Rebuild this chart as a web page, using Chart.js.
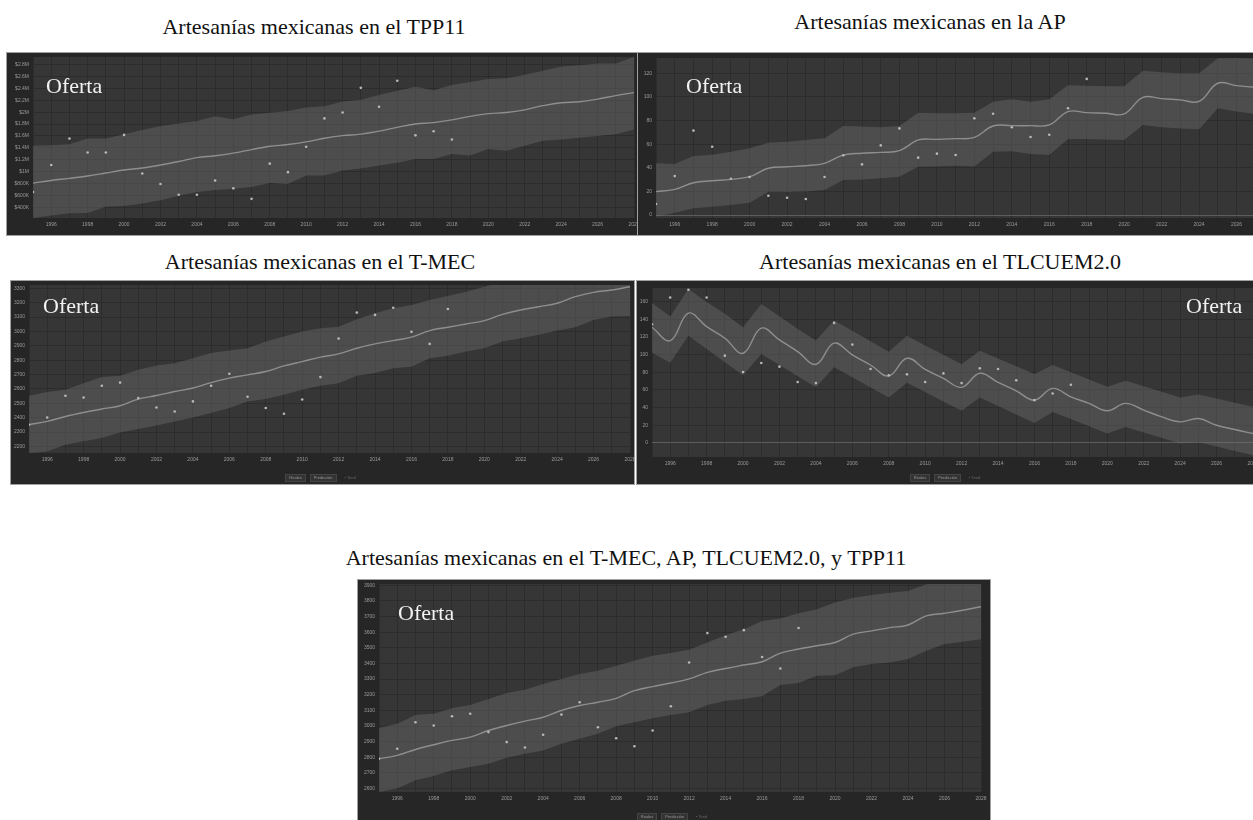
<!DOCTYPE html>
<html lang="es">
<head>
<meta charset="utf-8">
<title>Artesanías mexicanas - Oferta</title>
<script src="https://cdn.jsdelivr.net/npm/chart.js@4.4.1/dist/chart.umd.min.js"></script>
<style>
  body { margin: 0; width: 1253px; height: 820px; overflow: hidden; background: #fff; position: relative;
         font-family: "Liberation Serif", "Times New Roman", serif; }
  .titulo { position: absolute; font-size: 22px; line-height: 25px; color: #111; white-space: nowrap; transform: translateX(-50%); }
  .panel { position: absolute; background: #262626; box-shadow: 0 0 0 1px #a0a0a0; }
  .panel canvas { display: block; }
  .oferta { position: absolute; font-size: 22px; line-height: 25px; color: #f2f2f2; white-space: nowrap; }
  .leyenda { position: absolute; display: flex; justify-content: center; gap: 4px;
             font-family: "Liberation Sans", sans-serif; font-size: 4px; line-height: 6px; color: #9a9a9a; }
  .leyenda span { padding: 0 3px; background: #333; border: 1px solid #444; }
  .leyenda span.tenue { background: none; border-color: transparent; color: #666; }
</style>
</head>
<body>

<div class="titulo" style="left:314px; top:14px">Artesanías mexicanas en el TPP11</div>
<div class="titulo" style="left:930px; top:9px">Artesanías mexicanas en la AP</div>
<div class="titulo" style="left:320px; top:249px">Artesanías mexicanas en el T-MEC</div>
<div class="titulo" style="left:940px; top:249px">Artesanías mexicanas en el TLCUEM2.0</div>
<div class="titulo" style="left:626px; top:545px">Artesanías mexicanas en el T-MEC, AP, TLCUEM2.0, y TPP11</div>

<div class="panel" style="left:7px; top:53px; width:631px; height:182px"><canvas id="tpp" width="631" height="182"></canvas></div>
<div class="panel" style="left:638px; top:53px; width:640px; height:182px"><canvas id="ap" width="640" height="182"></canvas></div>
<div class="panel" style="left:11px; top:281px; width:623px; height:203px"><canvas id="tmec" width="623" height="203"></canvas></div>
<div class="panel" style="left:637px; top:281px; width:620px; height:203px"><canvas id="tlcuem" width="620" height="203"></canvas></div>
<div class="panel" style="left:358px; top:580px; width:632px; height:240px"><canvas id="todos" width="632" height="240"></canvas></div>

<div class="oferta" style="left:46px; top:73px">Oferta</div>
<div class="oferta" style="left:686px; top:73px">Oferta</div>
<div class="oferta" style="left:43px; top:293px">Oferta</div>
<div class="oferta" style="left:1186px; top:293px">Oferta</div>
<div class="oferta" style="left:398px; top:600px">Oferta</div>

<div class="leyenda" style="left:11px; width:623px; top:474px"><span>Reales</span><span>Predicción</span><span class="tenue">▪ Tend</span></div>
<div class="leyenda" style="left:637px; width:620px; top:474px"><span>Reales</span><span>Predicción</span><span class="tenue">▪ Tend</span></div>
<div class="leyenda" style="left:358px; width:632px; top:813px"><span>Reales</span><span>Predicción</span><span class="tenue">▪ Tend</span></div>

<script>
// Años de los datos observados y del pronóstico
const anosReales = [1995, 1996, 1997, 1998, 1999, 2000, 2001, 2002, 2003, 2004, 2005, 2006,
                    2007, 2008, 2009, 2010, 2011, 2012, 2013, 2014, 2015, 2016, 2017, 2018];
const anosPronostico = [1995, 1996, 1997, 1998, 1999, 2000, 2001, 2002, 2003, 2004, 2005, 2006,
                        2007, 2008, 2009, 2010, 2011, 2012, 2013, 2014, 2015, 2016, 2017, 2018,
                        2019, 2020, 2021, 2022, 2023, 2024, 2025, 2026, 2027, 2028];
const anosEtiqueta = [1996, 1998, 2000, 2002, 2004, 2006, 2008, 2010, 2012, 2014, 2016, 2018,
                      2020, 2022, 2024, 2026, 2028];

// TPP11 (miles de dólares)
const tppReal = [655, 1110, 1555, 1320, 1320, 1617, 967, 790, 610, 610, 850, 717,
                 540, 1133, 990, 1417, 1895, 1995, 2410, 2090, 2530, 1610, 1680, 1540];
const tppTendencia = [805, 850, 885, 925, 975, 1025, 1060, 1110, 1170, 1235, 1265, 1310,
                      1370, 1425, 1455, 1500, 1560, 1605, 1630, 1680, 1745, 1800, 1825, 1870,
                      1930, 1975, 1995, 2040, 2110, 2160, 2175, 2220, 2280, 2330];
const tppSuperior = [1433, 1445, 1460, 1555, 1555, 1630, 1700, 1767, 1810, 1850, 1930, 1880,
                     1960, 1990, 2020, 2080, 2100, 2180, 2210, 2290, 2360, 2430, 2370, 2460,
                     2510, 2560, 2570, 2630, 2700, 2770, 2790, 2820, 2820, 2930];
const tppInferior = [217, 260, 295, 300, 405, 420, 460, 517, 590, 655, 690, 710,
                     740, 805, 790, 933, 933, 1017, 1050, 1100, 1150, 1210, 1210, 1295,
                     1270, 1380, 1350, 1433, 1517, 1540, 1570, 1600, 1630, 1710];
const tppTicks = [400, 600, 800, 1000, 1200, 1400, 1600, 1800, 2000, 2200, 2400, 2600, 2800];
const tppEtiquetas = ['$400K', '$600K', '$800K', '$1M', '$1.2M', '$1.4M', '$1.6M', '$1.8M',
                      '$2M', '$2.2M', '$2.4M', '$2.6M', '$2.8M'];

// AP
const apReal = [9.3, 33, 71.5, 57.9, 30.8, 32.2, 16.4, 14.7, 13.6, 32.2, 50.6, 42.9,
                59, 73.4, 48.6, 52, 50.8, 81.9, 85.8, 74.3, 66.1, 68, 90.4, 115.3];
const apTendencia = [19.8, 21.8, 27.4, 29, 30.2, 32.5, 39.6, 40.9, 41.8, 43.8, 50.8, 52.3,
                     53.1, 54.5, 63.6, 64.1, 64.7, 65.8, 75.4, 75.7, 75.7, 76.3, 87.6, 86.7,
                     86.2, 85.6, 99.7, 98.6, 97.5, 96.3, 111.6, 109.6, 108.2, 107.6];
const apSuperior = [43.8, 43.2, 50, 51, 53.6, 56.5, 61.3, 62, 63.6, 65, 75.4, 75,
                    74.3, 75.4, 86.7, 86.2, 86.2, 86.7, 96, 98, 96, 98, 110, 109.5,
                    109, 109, 122.3, 121, 120, 120, 132.8, 133, 132.5, 132];
const apInferior = [-1.4, 2, 5.7, 7, 8.5, 10.4, 19.8, 19.6, 19.9, 21.2, 29.7, 30,
                    31.1, 32.5, 41, 41.2, 41.8, 41.2, 53.6, 54, 51.7, 50.8, 64.4, 64.3,
                    64, 63.6, 76.3, 74.3, 73.4, 72.6, 90.4, 87.6, 85.6, 85];
const apTicks = [0, 20, 40, 60, 80, 100, 120];
const apEtiquetas = ['0', '20', '40', '60', '80', '100', '120'];

// T-MEC
const tmecReal = [2351, 2401, 2552, 2540, 2622, 2644, 2536, 2471, 2443, 2513, 2622, 2705,
                  2545, 2467, 2427, 2526, 2682, 2950, 3131, 3115, 3165, 2997, 2913, 3156];
const tmecTendencia = [2351, 2374, 2408, 2436, 2460, 2483, 2529, 2554, 2582, 2606, 2644, 2675,
                       2698, 2721, 2760, 2790, 2821, 2844, 2883, 2913, 2936, 2960, 3006, 3029,
                       3052, 3075, 3119, 3149, 3172, 3196, 3242, 3272, 3288, 3311];
const tmecSuperior = [2552, 2578, 2594, 2640, 2682, 2691, 2733, 2763, 2779, 2814, 2849, 2867,
                      2883, 2929, 2964, 2999, 3022, 3033, 3085, 3126, 3161, 3184, 3219, 3247,
                      3276, 3311, 3345, 3370, 3395, 3420, 3460, 3490, 3510, 3535];
const tmecInferior = [2154, 2165, 2212, 2235, 2258, 2297, 2321, 2346, 2374, 2401, 2432, 2467,
                      2513, 2529, 2559, 2594, 2622, 2640, 2691, 2710, 2744, 2755, 2814, 2830,
                      2860, 2883, 2929, 2953, 2976, 3006, 3029, 3080, 3103, 3108];
const tmecTicks = [2200, 2300, 2400, 2500, 2600, 2700, 2800, 2900, 3000, 3100, 3200, 3300];
const tmecEtiquetas = ['2200', '2300', '2400', '2500', '2600', '2700', '2800', '2900', '3000', '3100', '3200', '3300'];

// TLCUEM2.0
const tlcuemReal = [134.5, 164.8, 173.5, 164.8, 98.9, 80.3, 90.6, 86.4, 69, 67.8, 136, 111.4,
                    83.8, 76.6, 77.7, 69, 78.8, 67.8, 84.5, 83.8, 70.9, 48.5, 56.1, 65.9];
const tlcuemTendencia = [131.1, 115.9, 147, 131.8, 118.6, 101.6, 130, 116.7, 103.4, 89.1, 113, 99.7,
                         88.3, 75.8, 95.9, 83.4, 73.2, 63, 78.9, 68.6, 59.1, 48.5, 61.8, 52.3,
                         44.8, 36.4, 44.8, 37.2, 29.5, 23.9, 27.7, 20.1, 15.2, 10.7];
const tlcuemSuperior = [158.4, 143.2, 174.3, 159.6, 146.2, 131.1, 157.3, 143.5, 129.2, 115.9, 138.6, 127,
                        115.2, 103.4, 121.3, 110.5, 99.8, 89.1, 104.5, 95.7, 86.8, 78, 88.3, 80.1,
                        71.8, 63.6, 70.5, 64.2, 57.9, 51.6, 55, 50.3, 45.6, 40.9];
const tlcuemInferior = [102.3, 90.9, 121.3, 106.4, 91.5, 76.6, 100.8, 88.2, 75.6, 63, 85.7, 74.3,
                        62.9, 51.6, 68.2, 57.6, 47, 36.4, 51.6, 42, 32.3, 22.7, 35.2, 27,
                        18.9, 10.7, 18.2, 11.9, 5.6, -0.7, 1.1, -4, -9, -14];
const tlcuemTicks = [0, 20, 40, 60, 80, 100, 120, 140, 160];
const tlcuemEtiquetas = ['0', '20', '40', '60', '80', '100', '120', '140', '160'];

// T-MEC, AP, TLCUEM2.0 y TPP11
const todosReal = [2791, 2855, 3024, 3003, 3062, 3078, 2961, 2897, 2863, 2944, 3073, 3152,
                   2992, 2922, 2871, 2971, 3126, 3406, 3594, 3570, 3613, 3441, 3368, 3627];
const todosTendencia = [2791, 2812, 2850, 2880, 2908, 2929, 2971, 3003, 3031, 3056, 3099, 3131,
                        3152, 3177, 3226, 3252, 3275, 3301, 3343, 3368, 3390, 3411, 3466, 3492,
                        3513, 3534, 3587, 3608, 3629, 3646, 3704, 3721, 3740, 3763];
const todosSuperior = [2988, 3014, 3071, 3078, 3113, 3135, 3173, 3211, 3232, 3269, 3301, 3333,
                       3354, 3385, 3417, 3449, 3466, 3487, 3534, 3581, 3619, 3672, 3687, 3721,
                       3747, 3789, 3820, 3838, 3852, 3863, 3906, 3930, 3950, 3980];
const todosInferior = [2578, 2600, 2653, 2680, 2717, 2738, 2759, 2797, 2823, 2844, 2887, 2918,
                       2950, 2999, 3024, 3050, 3071, 3088, 3135, 3162, 3173, 3190, 3262, 3275,
                       3322, 3324, 3375, 3396, 3406, 3428, 3481, 3524, 3538, 3555];
const todosTicks = [2600, 2700, 2800, 2900, 3000, 3100, 3200, 3300, 3400, 3500, 3600, 3700, 3800, 3900];
const todosEtiquetas = ['2600', '2700', '2800', '2900', '3000', '3100', '3200', '3300', '3400', '3500', '3600', '3700', '3800', '3900'];

// Fondo gris del área de trazado
const fondoArea = {
  id: 'fondoArea',
  beforeDraw(chart) {
    const { ctx, chartArea: a } = chart;
    ctx.save();
    ctx.fillStyle = '#363636';
    ctx.fillRect(a.left, a.top, a.right - a.left, a.bottom - a.top);
    ctx.restore();
  }
};

const aPuntos = (xs, ys) => ys.map((v, i) => ({ x: xs[i], y: v }));

function crearPanel(id, cfg) {
  const canvas = document.getElementById(id);
  const ctx = canvas.getContext('2d');
  return new Chart(ctx, {
    type: 'line',
    data: {
      datasets: [
        {
          label: 'Reales',
          data: aPuntos(anosReales, cfg.real),
          showLine: false,
          pointRadius: 1.3,
          pointBorderWidth: 0,
          pointBackgroundColor: '#b8b8b8',
          order: 0
        },
        {
          label: 'Predicción',
          data: aPuntos(anosPronostico, cfg.tendencia),
          borderColor: '#8e8e8e',
          borderWidth: 1.4,
          pointRadius: 0,
          tension: 0.4,
          fill: false,
          order: 1
        },
        {
          label: 'Superior',
          data: aPuntos(anosPronostico, cfg.superior),
          borderColor: 'rgba(0,0,0,0)',
          borderWidth: 0,
          pointRadius: 0,
          tension: 0,
          fill: '+1',
          backgroundColor: 'rgba(118,118,118,0.36)',
          order: 2
        },
        {
          label: 'Inferior',
          data: aPuntos(anosPronostico, cfg.inferior),
          borderColor: 'rgba(0,0,0,0)',
          borderWidth: 0,
          pointRadius: 0,
          tension: 0,
          fill: false,
          order: 3
        }
      ]
    },
    options: {
      responsive: false,
      animation: false,
      devicePixelRatio: 1,
      layout: {
        padding: { left: 0, top: cfg.arriba, right: canvas.width - cfg.derecha, bottom: 0 }
      },
      plugins: {
        legend: { display: false },
        tooltip: { enabled: false }
      },
      scales: {
        x: {
          type: 'linear',
          min: 1995,
          max: 2028,
          afterBuildTicks: s => { s.ticks = anosPronostico.map(v => ({ value: v })); },
          afterFit: s => {
            s.height = canvas.height - cfg.abajo;
            s.paddingLeft = 0; s.paddingRight = 0;
          },
          ticks: {
            color: '#9a9a9a',
            font: { size: 5 },
            padding: 4,
            maxRotation: 0,
            autoSkip: false,
            callback: v => anosEtiqueta.includes(v) ? String(v) : ''
          },
          grid: { color: '#2c2c2c', drawTicks: false },
          border: { display: false }
        },
        y: {
          min: cfg.min,
          max: cfg.max,
          afterBuildTicks: s => { s.ticks = cfg.ticks.map(v => ({ value: v })); },
          afterFit: s => {
            s.width = cfg.izquierda;
            s.paddingTop = 0; s.paddingBottom = 0;
          },
          ticks: {
            color: '#9a9a9a',
            font: { size: 5 },
            padding: 4,
            callback: v => cfg.etiquetas[cfg.ticks.indexOf(v)]
          },
          grid: {
            color: c => (c.tick && c.tick.value === 0) ? '#5c5c5c' : '#2c2c2c',
            drawTicks: false
          },
          border: { display: false }
        }
      }
    },
    plugins: [fondoArea]
  });
}

crearPanel('tpp', {
  real: tppReal, tendencia: tppTendencia, superior: tppSuperior, inferior: tppInferior,
  ticks: tppTicks, etiquetas: tppEtiquetas, min: 217, max: 2930,
  izquierda: 26, arriba: 2, derecha: 630, abajo: 165
});
crearPanel('ap', {
  real: apReal, tendencia: apTendencia, superior: apSuperior, inferior: apInferior,
  ticks: apTicks, etiquetas: apEtiquetas, min: -2.5, max: 133,
  izquierda: 18, arriba: 5, derecha: 638, abajo: 165
});
crearPanel('tmec', {
  real: tmecReal, tendencia: tmecTendencia, superior: tmecSuperior, inferior: tmecInferior,
  ticks: tmecTicks, etiquetas: tmecEtiquetas, min: 2154, max: 3323,
  izquierda: 18, arriba: 4, derecha: 620, abajo: 172
});
crearPanel('tlcuem', {
  real: tlcuemReal, tendencia: tlcuemTendencia, superior: tlcuemSuperior, inferior: tlcuemInferior,
  ticks: tlcuemTicks, etiquetas: tlcuemEtiquetas, min: -15.9, max: 175.5,
  izquierda: 15, arriba: 7, derecha: 618, abajo: 176
});
crearPanel('todos', {
  real: todosReal, tendencia: todosTendencia, superior: todosSuperior, inferior: todosInferior,
  ticks: todosTicks, etiquetas: todosEtiquetas, min: 2578, max: 3908,
  izquierda: 21, arriba: 3, derecha: 623, abajo: 212
});
</script>
</body>
</html>
